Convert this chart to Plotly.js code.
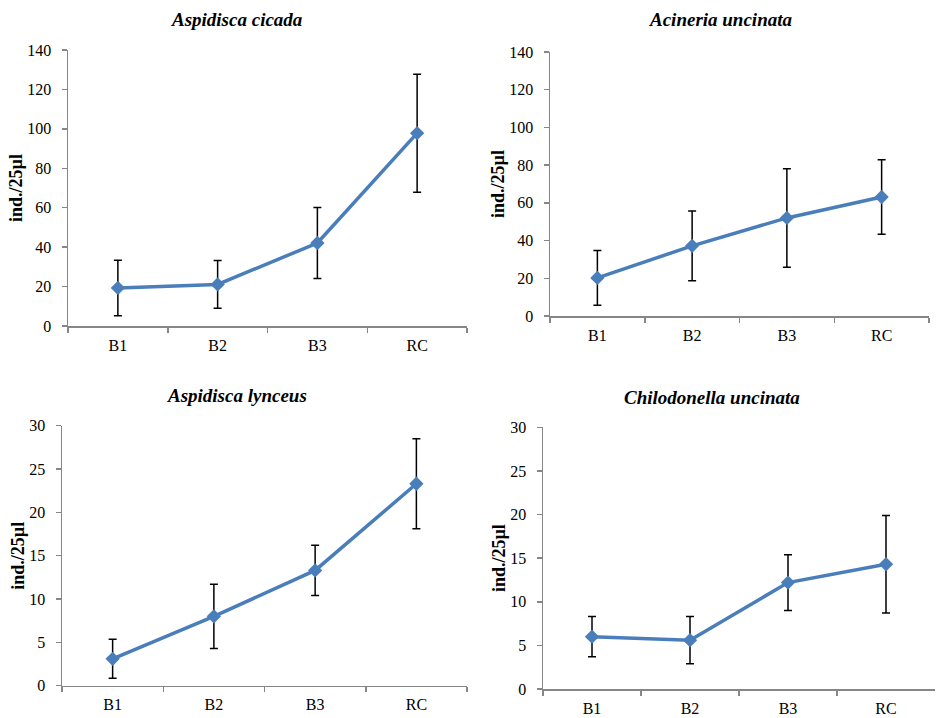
<!DOCTYPE html>
<html>
<head>
<meta charset="utf-8">
<script src="https://cdn.plot.ly/plotly-3.0.1.min.js"></script>
<style>html,body{margin:0;padding:0;background:#fff;}#chart{width:936px;height:718px;}</style>
</head>
<body>
<div id="chart"></div>
<script>
const categories = ["B1", "B2", "B3", "RC"];

const titles = ["Aspidisca cicada", "Acineria uncinata", "Aspidisca lynceus", "Chilodonella uncinata"];

const aspidiscaCicada = [19.3, 21.1, 42.1, 97.8];
const aspidiscaCicadaErr = [14.1, 12.1, 18.0, 29.9];

const acineriaUncinata = [20.2, 37.2, 52.0, 63.1];
const acineriaUncinataErr = [14.5, 18.5, 26.1, 19.8];

const aspidiscaLynceus = [3.1, 8.0, 13.3, 23.3];
const aspidiscaLynceusErr = [2.25, 3.7, 2.9, 5.2];

const chilodonellaUncinata = [6.0, 5.6, 12.2, 14.3];
const chilodonellaUncinataErr = [2.3, 2.7, 3.2, 5.6];

const yTitle = "ind./25µl";

const seriesList = [
  [aspidiscaCicada, aspidiscaCicadaErr],
  [acineriaUncinata, acineriaUncinataErr],
  [aspidiscaLynceus, aspidiscaLynceusErr],
  [chilodonellaUncinata, chilodonellaUncinataErr]
];

const W = 936, H = 718;
// plot-area boxes in px: [left, right, top, bottom]
const boxes = [
  [68, 467, 50, 326],
  [550, 929, 52, 316],
  [62, 467, 425.7, 685.7],
  [543, 935, 427.3, 689]
];
const yMax = [140, 140, 30, 30];
const yStep = [20, 20, 5, 5];

const lineColor = "#4A7EBB";
const axisColor = "#868686";
const serif = "Liberation Serif, Times New Roman, serif";

const traces = [];
const layout = {
  width: W, height: H,
  margin: {l: 0, r: 0, t: 0, b: 0},
  paper_bgcolor: "#ffffff",
  plot_bgcolor: "#ffffff",
  showlegend: false,
  font: {family: serif, color: "#000000", size: 16},
  annotations: []
};

seriesList.forEach((s, i) => {
  const n = i === 0 ? "" : String(i + 1);
  traces.push({
    type: "scatter",
    mode: "lines+markers",
    x: categories,
    y: s[0],
    xaxis: "x" + n,
    yaxis: "y" + n,
    line: {color: lineColor, width: 3.5},
    marker: {symbol: "diamond", size: 11, color: lineColor},
    error_y: {type: "data", array: s[1], visible: true, color: "#000000", thickness: 1.5, width: 4},
    hoverinfo: "x+y"
  });
  const b = boxes[i];
  layout["xaxis" + n] = {
    domain: [b[0] / W, b[1] / W],
    anchor: "y" + n,
    type: "category",
    range: [-0.5, 3.5],
    showline: true, linecolor: axisColor, linewidth: 1.5,
    showgrid: false, zeroline: false,
    ticks: "outside", tickson: "boundaries", ticklen: 5, tickcolor: axisColor, tickwidth: 1.5,
    tickfont: {family: serif, size: 16, color: "#000000"},
    ticklabelstandoff: 4,
    fixedrange: true
  };
  layout["yaxis" + n] = {
    domain: [1 - b[3] / H, 1 - b[2] / H],
    anchor: "x" + n,
    range: [0, yMax[i]],
    dtick: yStep[i], tick0: 0,
    showline: true, linecolor: axisColor, linewidth: 1.5,
    showgrid: false, zeroline: false,
    ticks: "outside", ticklen: 5, tickcolor: axisColor, tickwidth: 1.5,
    tickfont: {family: serif, size: 16, color: "#000000"},
    ticklabelstandoff: 7,
    title: {text: "<b>" + yTitle + "</b>", font: {family: serif, size: 18, color: "#000000"}, standoff: 0},
    fixedrange: true
  };
  layout.annotations.push({
    text: "<b><i>" + titles[i] + "</i></b>",
    xref: "paper", yref: "paper",
    x: [237, 720, 237, 712][i] / W,
    y: 1 - [19, 19, 395, 398][i] / H,
    xanchor: "center", yanchor: "middle",
    showarrow: false,
    font: {family: serif, size: 19, color: "#000000"}
  });
});

Plotly.newPlot("chart", traces, layout, {displayModeBar: false, staticPlot: true});
</script>
</body>
</html>
